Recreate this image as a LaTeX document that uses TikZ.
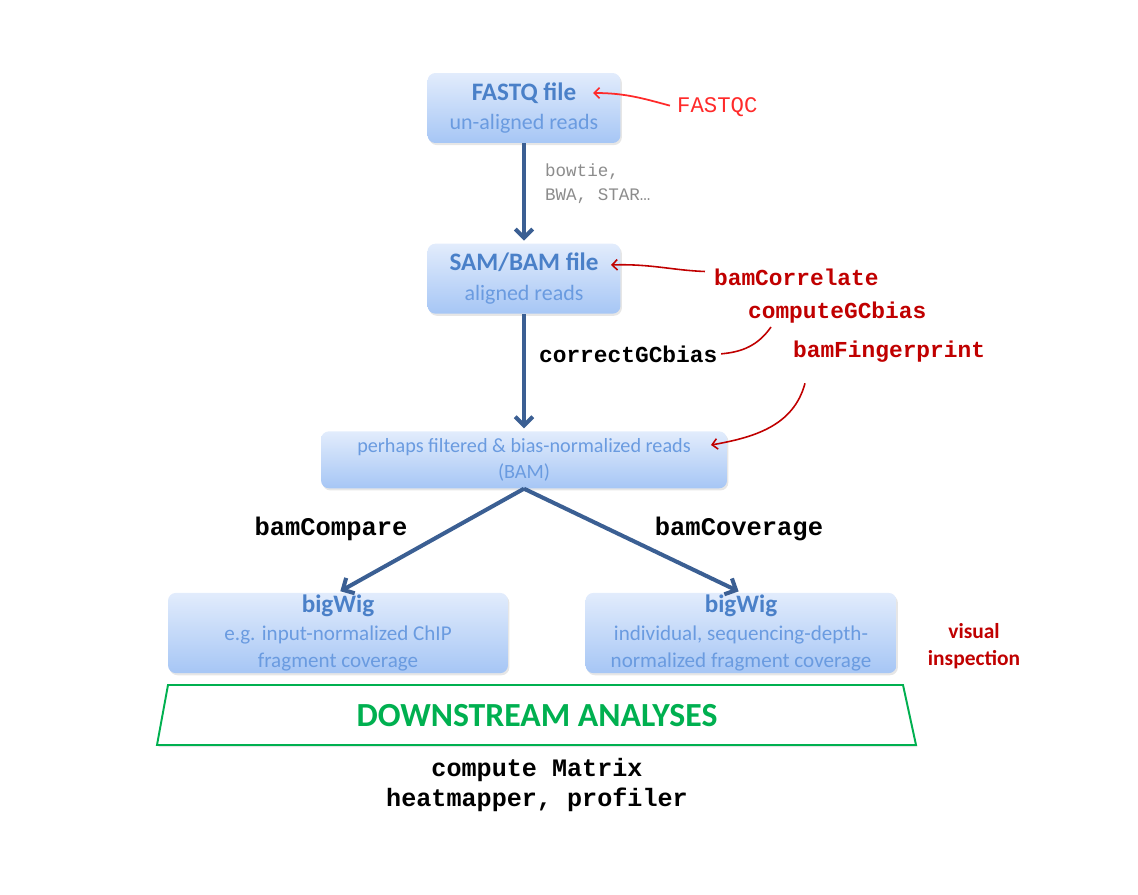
\documentclass[tikz,border=0pt]{standalone}
\usepackage{fontspec}
\setmainfont{Carlito}
\newfontfamily\codefont{Liberation Mono}
\usepackage{tikz}
\usetikzlibrary{arrows.meta, positioning, calc, shadows}
\definecolor{boxtop}{HTML}{E2ECFC}
\definecolor{boxbot}{HTML}{A6C6F5}
\definecolor{boxtitle}{HTML}{4A80C8}
\definecolor{boxsub}{HTML}{6A9BE0}
\definecolor{flowblue}{HTML}{3B5F93}
\definecolor{toolred}{HTML}{C00000}
\definecolor{qcred}{HTML}{FF2A2A}
\definecolor{downgreen}{HTML}{00B050}
\newcommand{\filehead}[1]{{\fontsize{14.3}{17}\selectfont\bfseries\color{boxtitle}#1}}

\begin{document}
\begin{tikzpicture}[x=0.02cm, y=0.02cm, node distance=2cm,
  every node/.style={inner sep=1pt},
  filebox/.style={top color=boxtop, bottom color=boxbot, rounded corners=4.5pt, align=center, text=boxsub, inner sep=1pt,
    font=\fontsize{12.5}{17}\selectfont, drop shadow={opacity=0.2, shadow xshift=0.8pt, shadow yshift=-1.2pt}},
  flowarrow/.style={-{Straight Barb[length=5pt, width=10pt]}, line width=2.3pt, flowblue, shorten >=1.5pt},
  toolarrow/.style={-{Straight Barb[length=3pt, width=6pt]}, line width=0.9pt, toolred},
  toolcode/.style={font=\fontsize{13}{15}\selectfont\codefont\bfseries, text=toolred, anchor=west},
  stepcode/.style={font=\fontsize{14.5}{17}\selectfont\codefont\bfseries, text=black}]
  \useasboundingbox (0,0) rectangle (1138,894);

  % file boxes
  \node[filebox, minimum width=3.86cm, minimum height=1.4cm] (fastq) at (524,786) {\filehead{FASTQ file}\\un-aligned reads};
  \node[filebox, minimum width=3.86cm, minimum height=1.4cm, below=2cm of fastq] (sam) {\filehead{SAM/BAM file}\\aligned reads};
  \node[filebox, minimum width=8.12cm, minimum height=1.14cm, font=\fontsize{11.5}{15.3}\selectfont, below=2.34cm of sam] (filt) {perhaps filtered \& bias-normalized reads\\(BAM)};
  \node[filebox, minimum width=6.8cm, minimum height=1.6cm, font=\fontsize{12}{15.8}\selectfont] (bwl) at (338,261) {\filehead{bigWig}\\e.g. input-normalized ChIP\\fragment coverage};
  \node[filebox, minimum width=6.22cm, minimum height=1.6cm, font=\fontsize{12}{15.8}\selectfont] (bwr) at (741,261) {\filehead{bigWig}\\individual, sequencing-depth-\\normalized fragment coverage};

  % downstream
  \draw[downgreen, line width=1.1pt, fill=white, drop shadow={opacity=0.2, shadow xshift=0.8pt, shadow yshift=-1.2pt}]
    (168,209) -- (903,209) -- (916,149) -- (157,149) -- cycle;
  \node[font=\fontsize{19.2}{21}\selectfont\bfseries, text=downgreen] (down) at (537,178) {DOWNSTREAM ANALYSES};
  \node[stepcode, align=center, font=\fontsize{14.3}{17.6}\selectfont\codefont\bfseries] (plots) at (537,109) {compute Matrix\\heatmapper, profiler};

  % tools
  \node[font=\fontsize{12.7}{15}\selectfont\codefont, text=qcred, anchor=west] (fastqc) at (675,787) {FASTQC};
  \node[font=\fontsize{10}{13.6}\selectfont\codefont, text=black!45, anchor=west, align=left] (align) at (543,710) {bowtie,\\BWA, STAR…};
  \node[toolcode] (bamcorr) at (712,617) {bamCorrelate};
  \node[toolcode] (compgc) at (746,581) {computeGCbias};
  \node[toolcode, text=black] (corrgc) at (537,540) {correctGCbias};
  \node[toolcode] (bamfp) at (791,542) {bamFingerprint};
  \node[stepcode] (bamcmp) at (331,365) {bamCompare};
  \node[stepcode] (bamcov) at (739,365) {bamCoverage};
  \node[font=\fontsize{12.2}{15.3}\selectfont\bfseries, text=toolred, align=center] (visual) at (974,248) {visual\\inspection};

  % connectors
  \coordinate (fq-in) at (593,801);
  \coordinate (sam-in) at (611,629);
  \coordinate (gc-out) at (771,567);
  \coordinate (filt-in) at (711,449);
  \draw[flowarrow] (fastq) -- (sam);
  \draw[flowarrow] (sam) -- (filt);
  \draw[flowarrow] (filt.south) -- (bwl.north);
  \draw[flowarrow] (filt.south) -- (bwr.north);
  \draw[toolarrow, qcred, line width=1pt, shorten <=3pt] (fastqc.west) to[out=165, in=0] (fq-in);
  \draw[toolarrow, shorten <=4pt] ([yshift=3pt]bamcorr.west) to[out=178, in=2] (sam-in);
  \draw[toolred, line width=0.9pt, shorten <=1pt] (corrgc.east) to[out=5, in=235] (gc-out);
  \draw[toolarrow] ([xshift=0.28cm, yshift=-0.37cm]bamfp.south west) to[out=255, in=10] (filt-in);
\end{tikzpicture}
\end{document}
